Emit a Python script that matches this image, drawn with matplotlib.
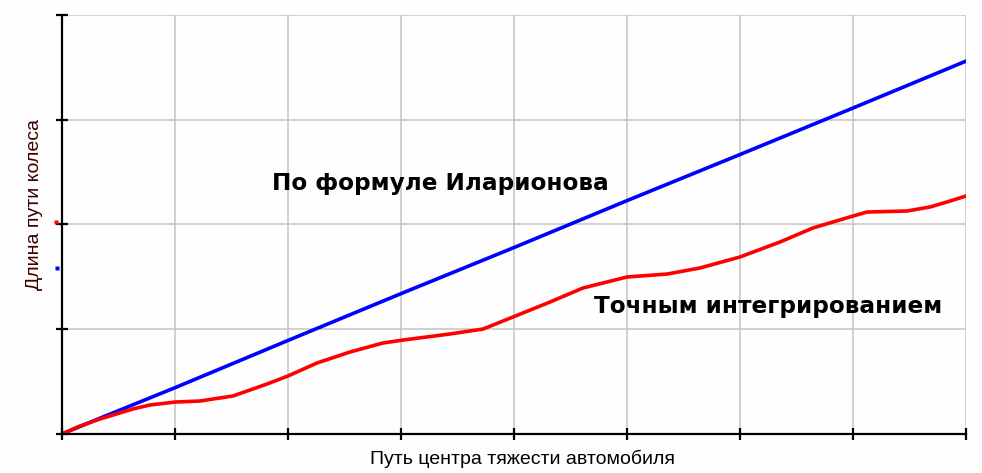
import matplotlib
matplotlib.use("Agg")
import matplotlib.pyplot as plt
import matplotlib.transforms as mtransforms

# Data
blue_x = [0, 0.34, 1.0, 2.0, 3.0, 4.0, 5.0, 6.0, 7.0, 8.0]
blue_y = [0, 0.153, 0.442, 0.893, 1.340, 1.780, 2.228, 2.668, 3.112, 3.560]

red_x = [0, 0.159, 0.336, 0.628, 0.779, 1.0, 1.221, 1.513, 1.664, 1.814, 2.0, 2.257, 2.549,
         2.841, 3.018, 3.434, 3.726, 3.991, 4.319, 4.611, 5.0, 5.354, 5.646, 6.0, 6.354,
         6.646, 7.0, 7.124, 7.478, 7.681, 7.832, 8.0]
red_y = [0, 0.076, 0.143, 0.239, 0.277, 0.305, 0.315, 0.363, 0.420, 0.477, 0.554, 0.678, 0.783,
         0.869, 0.897, 0.955, 1.002, 1.117, 1.260, 1.394, 1.499, 1.527, 1.585, 1.690, 1.833,
         1.967, 2.081, 2.119, 2.129, 2.167, 2.215, 2.272]

x_ticks = [0, 1, 2, 3, 4, 5, 6, 7, 8]
y_ticks = [0, 1, 2, 3, 4]
marker_red_y = 2.02
marker_blue_y = 1.585

label_blue = "По формуле Иларионова"
label_red = "Точным интегрированием"
xlabel = "Путь центра тяжести автомобиля"
ylabel = "Длина пути колеса"

fig = plt.figure(figsize=(9.82, 4.73), dpi=100)
fig.patch.set_facecolor("#fdfefd")
ax = fig.add_axes([62/982, (473-434)/473, (966-62)/982, (434-15)/473])
ax.set_facecolor("#fdfefd")

ax.plot(blue_x, blue_y, color="#0000ff", lw=2.6, zorder=3)
ax.plot(red_x, red_y, color="#ff0000", lw=2.6, zorder=3)

ax.set_xlim(0, 8)
ax.set_ylim(0, 4)
ax.set_xticks(x_ticks)
ax.set_yticks(y_ticks)
ax.set_xticklabels([])
ax.set_yticklabels([])
ax.grid(True, color="#c4c4c4", lw=1.1, zorder=0)
ax.set_axisbelow(True)
for s in ["top", "right"]:
    ax.spines[s].set_visible(False)
for s in ["left", "bottom"]:
    ax.spines[s].set_linewidth(1.6)
    ax.spines[s].set_color("black")
    ax.spines[s].set_zorder(4)
ax.tick_params(direction="inout", length=8, width=1.6, color="black")

trans = mtransforms.blended_transform_factory(ax.transAxes, ax.transData)
ax.plot([-0.007], [marker_red_y], marker="s", ms=3.2, color="#ff0000", transform=trans, clip_on=False, mec="none")
ax.plot([-0.006], [marker_blue_y], marker="s", ms=2.6, color="#0000ff", transform=trans, clip_on=False, mec="none")

ax.text((272-62)/904, 0.597, label_blue, transform=ax.transAxes, fontsize=16.7, fontweight="bold",
        family=["DejaVu Sans"], ha="left", va="center", color="black", zorder=5)
ax.text((594-62)/904, 0.305, label_red, transform=ax.transAxes, fontsize=16.7, fontweight="bold",
        family=["DejaVu Sans"], ha="left", va="center", color="black", zorder=5)

fig.text(523/982, 1 - 459/473, xlabel, fontsize=14, family=["Liberation Sans", "DejaVu Sans"],
         ha="center", va="center", color="black")
fig.text(35/982, 1 - 204/473, ylabel, fontsize=14, family=["Liberation Sans", "DejaVu Sans"],
         ha="center", va="center", rotation=90, color="#3a0000")

fig.savefig("out.png", dpi=100, facecolor=fig.get_facecolor())
